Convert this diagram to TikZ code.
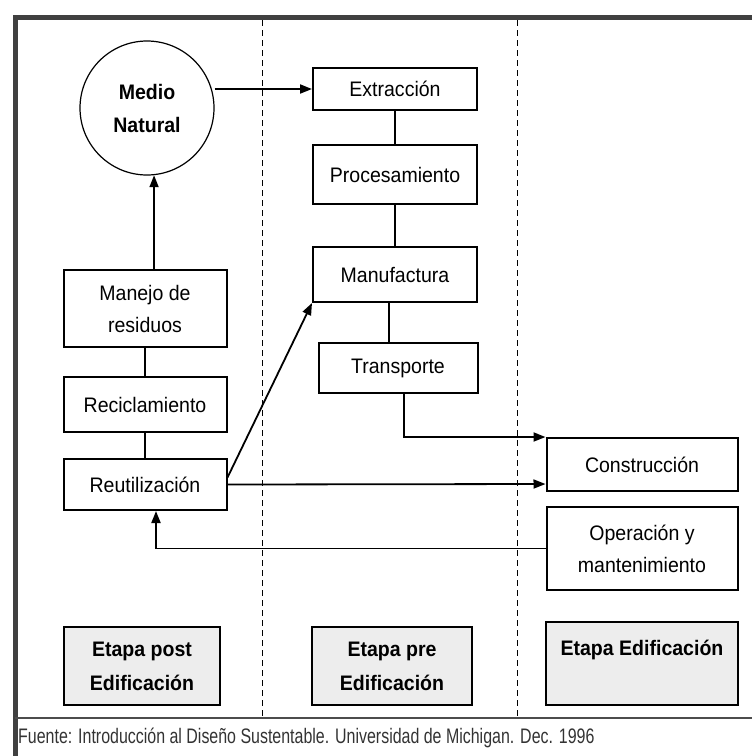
\documentclass[tikz,border=0pt]{standalone}
\usepackage{fontspec}
\setmainfont{Liberation Sans}[FakeStretch=0.93]
\newfontfamily\footfont[FakeStretch=0.76]{Liberation Sans}
\usetikzlibrary{arrows.meta,positioning}

\begin{document}
\begin{tikzpicture}[x=1pt, y=-1pt,
    box/.style={draw, line width=2pt, fill=white, align=center, inner sep=0pt,
      font=\fontsize{21}{32}\selectfont},
    stage/.style={box, fill=black!7, font=\bfseries\fontsize{21}{34}\selectfont},
    arr/.style={line width=1.8pt, -{Triangle[length=12pt,width=9pt]}},
    link/.style={line width=1.8pt}]
  \useasboundingbox (0,0) rectangle (752,756);
  % frame and columns
  \draw[line width=5pt, black!75] (15,756) -- (15,17) -- (752,17);
  \draw[line width=2.5pt, black!70] (15,718) -- (752,718);
  \draw[line width=1pt, dash pattern=on 6pt off 4pt] (262,20) -- (262,718);
  \draw[line width=1pt, dash pattern=on 6pt off 4pt] (517,20) -- (517,718);

  \node[circle, draw, line width=1.2pt, fill=white, minimum size=134pt, inner sep=0pt,
    align=center, font=\bfseries\fontsize{21}{33}\selectfont] (medio) at (147,108) {Medio\\Natural};

  \begin{scope}[node distance=33pt]
    \node[box, minimum width=164pt, minimum height=42pt] (extr) at (395,89) {Extracción};
    \node[box, minimum width=164pt, minimum height=59pt] (proc) [below=of extr] {Procesamiento};
    \node[box, minimum width=164pt, minimum height=55pt] (manuf) [below=41pt of proc] {Manufactura};
    \node[box, minimum width=159pt, minimum height=50pt] (transp) [below=39pt of manuf, xshift=3pt] {Transporte};

    \node[box, minimum width=163pt, minimum height=77pt] (manejo) at (145,308.5) {Manejo de\\residuos};
    \node[box, minimum width=163pt, minimum height=55pt] (recic) [below=28pt of manejo] {Reciclamiento};
    \node[box, minimum width=163pt, minimum height=51pt] (reut) [below=25pt of recic] {Reutilización};

    \node[box, minimum width=191pt, minimum height=53pt] (constr) at (642,464.5) {Construcción};
    \node[box, minimum width=191pt, minimum height=83pt] (oper) [below=14pt of constr] {Operación y\\mantenimiento};
  \end{scope}

  \node[stage, minimum width=156pt, minimum height=78pt] (postE) at (142,666) {Etapa post\\Edificación};
  \node[stage, minimum width=160pt, minimum height=78pt] (preE) at (392,666) {Etapa pre\\Edificación};
  \node[stage, minimum width=192pt, text height=33pt, text depth=50pt, anchor=base] (edif) at (642,655) {Etapa Edificación};

  \node[anchor=west, inner sep=0pt, text=black!80, font=\footfont\fontsize{21}{24}\selectfont] (fuente) at (18,738)
    {Fuente: Introducción al Diseño Sustentable. Universidad de Michigan. Dec. 1996};

  % connectors
  \draw[arr] (medio.east |- extr.west) -- (extr.west);
  \draw[link] (extr) -- (proc);
  \draw[link] (proc) -- (manuf);
  \draw[link] ([xshift=-6pt]manuf.south) -- ([xshift=-6pt]manuf.south |- transp.north);
  \draw[arr] ([xshift=6pt]transp.south) |- (constr.north west);
  \draw[link] (manejo) -- (recic);
  \draw[link] (recic) -- (reut);
  \draw[arr] (manejo.north -| medio.-84) -- (medio.-84);
  \draw[arr] ([yshift=7pt]reut.east) -- (manuf.south west);
  \draw[arr] (reut.east) -- ([yshift=8pt]constr.south west);
  \draw[arr] (oper.west) -| ([xshift=11pt]reut.south);
\end{tikzpicture}
\end{document}
